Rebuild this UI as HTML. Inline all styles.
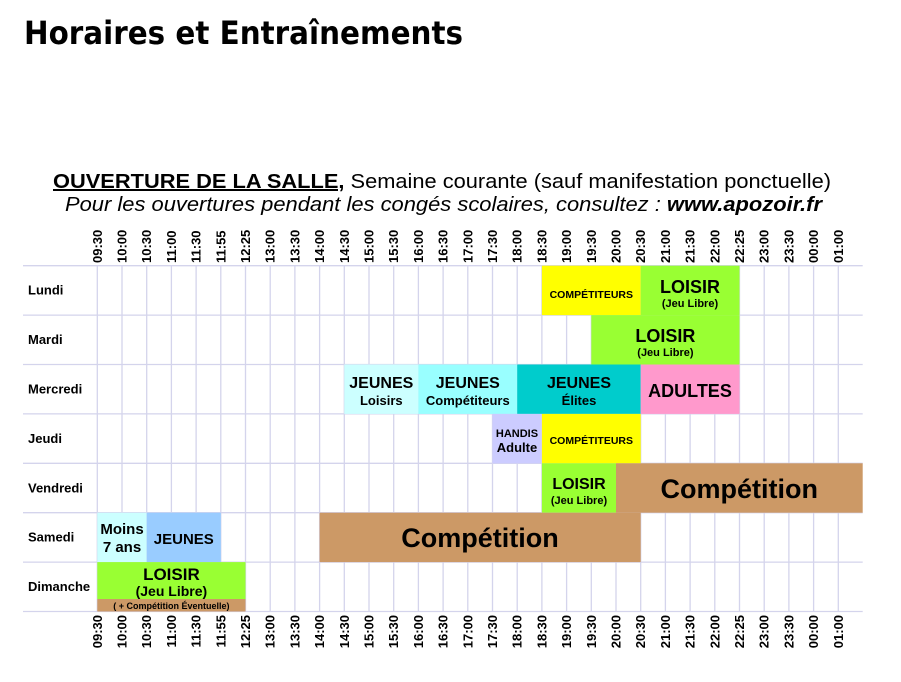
<!DOCTYPE html>
<html><head><meta charset="utf-8"><style>
html,body{margin:0;padding:0;background:#fff;width:901px;height:682px;overflow:hidden}
svg{display:block}
text{font-family:"Liberation Sans",sans-serif;font-weight:bold;fill:#000}
</style></head><body>
<svg width="901" height="682" viewBox="0 0 901 682" xmlns="http://www.w3.org/2000/svg">
<text x="24" y="44" font-size="32" textLength="439" lengthAdjust="spacingAndGlyphs" style="font-family:'DejaVu Sans','Liberation Sans',sans-serif">Horaires et Entraînements</text>
<text x="53" y="188" font-size="20" font-weight="normal" textLength="778" lengthAdjust="spacingAndGlyphs" style="font-weight:normal"><tspan font-weight="bold" text-decoration="underline">OUVERTURE DE LA SALLE,</tspan> Semaine courante (sauf manifestation ponctuelle)</text>
<text x="65" y="211" font-size="20" font-style="italic" textLength="757" lengthAdjust="spacingAndGlyphs" style="font-weight:normal">Pour les ouvertures pendant les congés scolaires, consultez : <tspan font-weight="bold">www.apozoir.fr</tspan></text>
<g id="grid" stroke="#d4d4ec" stroke-width="1.3"></g>
<g id="blocks"></g>
<g id="labels"></g>
</svg>
<script>
var NS="http://www.w3.org/2000/svg";
function X(i){return 97.3+24.7*i}
function Y(r){return 265.7+49.4*r}
var g=document.getElementById('grid'),b=document.getElementById('blocks'),l=document.getElementById('labels');
function el(p,t,a,txt){var e=document.createElementNS(NS,t);for(var k in a)e.setAttribute(k,a[k]);if(txt!=null)e.textContent=txt;p.appendChild(e);return e}
for(var i=0;i<=30;i++)el(g,'line',{x1:X(i),x2:X(i),y1:265,y2:612});
for(var r=0;r<=7;r++)el(g,'line',{x1:23,x2:862.7,y1:Y(r),y2:Y(r)});
var times=["09:30","10:00","10:30","11:00","11:30","11:55","12:25","13:00","13:30","14:00","14:30","15:00","15:30","16:00","16:30","17:00","17:30","18:00","18:30","19:00","19:30","20:00","20:30","21:00","21:30","22:00","22:25","23:00","23:30","00:00","01:00"];
times.forEach(function(t,i){
 var x=X(i)+4.5;
 el(l,'text',{x:0,y:0,'font-size':13,transform:'translate('+x+',263) rotate(-90)'},t);
 el(l,'text',{x:0,y:0,'font-size':13,'text-anchor':'end',transform:'translate('+x+',615) rotate(-90)'},t);
});
["Lundi","Mardi","Mercredi","Jeudi","Vendredi","Samedi","Dimanche"].forEach(function(d,r){
 el(l,'text',{x:28,y:Y(r)+29,'font-size':13},d);
});
function R(x1,x2,y1,y2,c){el(b,'rect',{x:x1,y:y1,width:x2-x1,height:y2-y1,fill:c})}
function T(x,y,s,t,w){var a={x:x,y:y,'font-size':s,'text-anchor':'middle'};if(w)a.style='font-weight:'+w;el(l,'text',a,t)}
// Lundi
R(X(18),X(22),Y(0),Y(1),'#ffff00');T(591.3,298,10.5,'COMPÉTITEURS');
R(X(22),X(26),Y(0),Y(1),'#99ff33');T(690,293,18,'LOISIR');T(690,307,11,'(Jeu Libre)');
// Mardi
R(X(20),X(26),Y(1),Y(2),'#99ff33');T(665.4,342,18,'LOISIR');T(665.4,356,11,'(Jeu Libre)');
// Mercredi
R(X(10),X(13),Y(2),Y(3),'#ccffff');T(381.3,388,16,'JEUNES');T(381.3,405,13,'Loisirs');
R(X(13),X(17),Y(2),Y(3),'#99ffff');T(467.8,388,16,'JEUNES');T(467.8,405,13,'Compétiteurs');
R(X(17),X(22),Y(2),Y(3),'#00cccc');T(579,388,16,'JEUNES');T(579,405,13,'Élites');
R(X(22),X(26),Y(2),Y(3),'#ff99cc');T(690,397,18,'ADULTES');
// Jeudi
R(X(16),X(18),Y(3),Y(4),'#ccccff');T(517,437,11,'HANDIS');T(517,452,13,'Adulte');
R(X(18),X(22),Y(3),Y(4),'#ffff00');T(591.3,444,10.5,'COMPÉTITEURS');
// Vendredi
R(X(18),X(21),Y(4),Y(5),'#99ff33');T(579,489,16,'LOISIR');T(579,504,11,'(Jeu Libre)');
R(X(21),862.7,Y(4),Y(5),'#cc9966');T(739.3,498,27,'Compétition');
// Samedi
R(X(0),X(2),Y(5),Y(6),'#ccffff');T(122,534,15,'Moins');T(122,552,15,'7 ans');
R(X(2),X(5),Y(5),Y(6),'#99ccff');T(183.8,544,15,'JEUNES');
R(X(9),X(22),Y(5),Y(6),'#cc9966');T(480,547,27,'Compétition');
// Dimanche
R(X(0),X(6),Y(6),599,'#99ff33');R(X(0),X(6),599,Y(7),'#cc9966');
T(171.4,580,17,'LOISIR');T(171.4,596,14,'(Jeu Libre)');T(171.4,609,9,'( + Compétition Éventuelle)');
</script>
</body></html>
